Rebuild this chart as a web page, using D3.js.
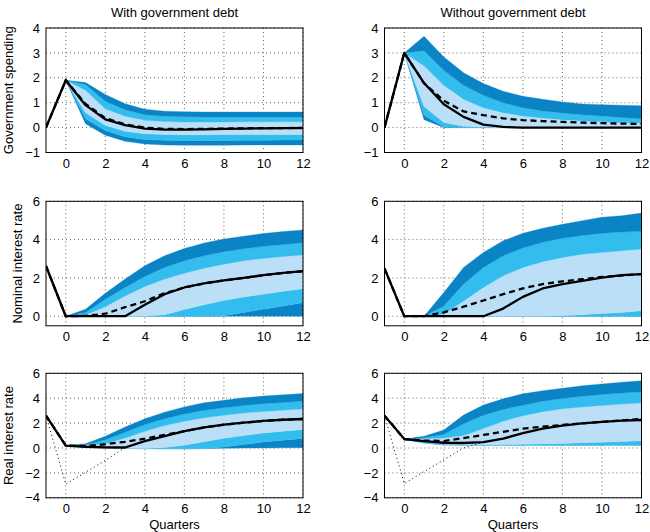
<!DOCTYPE html>
<html>
<head>
<meta charset="utf-8">
<script src="https://cdn.jsdelivr.net/npm/d3@7"></script>
<style>
  body { margin: 0; background: #fff; }
  svg { font-family: "Liberation Sans", Arial, Helvetica, sans-serif; }
</style>
</head>
<body>
<svg id="chart" width="650" height="532"></svg>
<script>
// quarters for the lines (-1..12) and for the fan bands (0..12)
const quarters = d3.range(-1, 13);
const fanQuarters = d3.range(0, 13);
const xTicks = [0, 2, 4, 6, 8, 10, 12];

const colTitles = ['With government debt', 'Without government debt'];
const rowLabels = ['Government spending', 'Nominal interest rate', 'Real interest rate'];
const rowDomains = [[-1, 4], [-0.5, 6], [-4, 6]];
const rowTicks = [[-1, 0, 1, 2, 3, 4], [0, 2, 4, 6], [-4, -2, 0, 2, 4, 6]];

// government spending, with debt
const govWithSolid = [0, 1.9, 0.9, 0.33, 0.1, -0.04, -0.08, -0.08, -0.07, -0.05, -0.04, -0.03, -0.02, -0.02];
const govWithDashed = [0, 1.9, 0.95, 0.38, 0.13, 0.0, -0.05, -0.06, -0.05, -0.04, -0.03, -0.02, -0.02, -0.01];
// bands: lo3, lo2, lo1, hi1, hi2, hi3
const govWithBands = [
  [1.9, 0.15, -0.31, -0.55, -0.66, -0.7, -0.71, -0.71, -0.71, -0.7, -0.7, -0.7, -0.7],
  [1.9, 0.36, -0.12, -0.37, -0.48, -0.51, -0.52, -0.52, -0.52, -0.51, -0.51, -0.5, -0.5],
  [1.9, 0.6, 0.09, -0.15, -0.25, -0.28, -0.29, -0.29, -0.28, -0.28, -0.28, -0.28, -0.28],
  [1.9, 1.5, 0.76, 0.46, 0.3, 0.24, 0.22, 0.22, 0.22, 0.23, 0.23, 0.23, 0.23],
  [1.9, 1.73, 1.06, 0.72, 0.52, 0.46, 0.44, 0.43, 0.43, 0.43, 0.43, 0.43, 0.43],
  [1.9, 1.81, 1.33, 0.96, 0.74, 0.66, 0.64, 0.63, 0.63, 0.63, 0.63, 0.63, 0.63]
];

// government spending, without debt
const govWithoutSolid = [0, 3.0, 1.79, 0.94, 0.43, 0.12, 0.03, 0, 0, 0, 0, 0, 0, 0];
const govWithoutDashed = [0, 3.0, 1.78, 1.08, 0.65, 0.5, 0.37, 0.3, 0.26, 0.23, 0.2, 0.18, 0.16, 0.15];
const govWithoutBands = [
  [3, 0.32, 0, 0, 0, 0, 0, 0, 0, 0, 0, 0, 0],
  [3, 0.5, 0.03, 0, 0, 0, 0, 0, 0, 0, 0, 0, 0],
  [3, 0.85, 0.2, 0.05, 0.02, 0, 0, 0, 0, 0, 0, 0, 0],
  [3, 2.48, 1.7, 1.14, 0.8, 0.6, 0.47, 0.39, 0.32, 0.27, 0.23, 0.2, 0.18],
  [3, 3.09, 2.3, 1.7, 1.3, 1.0, 0.8, 0.67, 0.59, 0.52, 0.47, 0.41, 0.36],
  [3, 3.67, 2.84, 2.2, 1.77, 1.46, 1.26, 1.14, 1.03, 0.95, 0.92, 0.9, 0.88]
];

// nominal rate, with debt
const nomWithSolid = [2.62, 0, 0, 0, 0, 0.6, 1.15, 1.5, 1.72, 1.87, 2.0, 2.14, 2.26, 2.35];
const nomWithDashed = [2.62, 0, 0.02, 0.13, 0.47, 0.78, 1.2, 1.5, 1.72, 1.87, 2.0, 2.14, 2.26, 2.35];
const nomWithBands = [
  [0, 0, 0, 0, 0, 0, 0, 0, 0, 0, 0, 0, 0],
  [0, 0, 0, 0, 0, 0, 0, 0, 0.03, 0.2, 0.37, 0.53, 0.7],
  [0, 0, 0, 0, 0, 0.08, 0.35, 0.6, 0.82, 1.0, 1.15, 1.3, 1.43],
  [0, 0.07, 0.5, 1.06, 1.55, 1.94, 2.25, 2.5, 2.72, 2.9, 3.02, 3.12, 3.2],
  [0, 0.19, 0.89, 1.5, 2.08, 2.55, 2.9, 3.16, 3.37, 3.52, 3.65, 3.75, 3.83],
  [0, 0.37, 1.2, 1.94, 2.64, 3.16, 3.54, 3.82, 4.03, 4.18, 4.32, 4.42, 4.5]
];

// nominal rate, without debt
const nomWithoutSolid = [2.5, 0, 0, 0, 0, 0, 0.4, 1.01, 1.45, 1.68, 1.85, 2.02, 2.15, 2.2];
const nomWithoutDashed = [2.5, 0, 0, 0.2, 0.5, 0.82, 1.15, 1.45, 1.68, 1.82, 1.93, 2.05, 2.12, 2.2];
const nomWithoutBands = [
  [0, 0, 0, 0, 0, 0, 0, 0, 0, 0, 0, 0, 0],
  [0, 0, 0, 0, 0, 0, 0, 0, 0, 0, 0, 0, 0],
  [0, 0, 0, 0, 0, 0, 0, 0, 0.03, 0.08, 0.14, 0.2, 0.28],
  [0, 0, 0.1, 0.8, 1.5, 2.11, 2.55, 2.84, 3.07, 3.23, 3.33, 3.42, 3.51],
  [0, 0, 0.54, 1.68, 2.55, 3.16, 3.56, 3.86, 4.07, 4.21, 4.33, 4.4, 4.43],
  [0, 0, 1.24, 2.55, 3.33, 3.94, 4.33, 4.59, 4.8, 4.99, 5.17, 5.25, 5.39]
];

// real rate, with debt
const realWithSolid = [2.6, 0.19, 0.1, 0.05, 0.04, 0.55, 0.95, 1.35, 1.65, 1.87, 2.03, 2.18, 2.27, 2.33];
const realWithDashed = [2.6, 0.19, 0.15, 0.3, 0.5, 0.75, 1.05, 1.35, 1.65, 1.87, 2.03, 2.18, 2.27, 2.33];
const realWithDotted = [2.6, -2.9, -1.95, -1.0, 0.04];
const realWithBands = [
  [0.19, 0.08, 0.0, -0.03, -0.05, -0.06, -0.06, -0.05, -0.03, -0.01, 0, 0.02, 0.03],
  [0.19, 0.08, 0.0, -0.03, -0.05, -0.06, -0.06, -0.05, 0.08, 0.28, 0.48, 0.62, 0.76],
  [0.19, 0.08, 0.0, -0.03, -0.05, 0.05, 0.22, 0.5, 0.78, 1.0, 1.2, 1.35, 1.48],
  [0.19, 0.2, 0.35, 0.8, 1.34, 1.8, 2.15, 2.42, 2.63, 2.82, 2.93, 3.04, 3.15],
  [0.19, 0.27, 0.67, 1.26, 1.88, 2.34, 2.74, 3.04, 3.23, 3.41, 3.55, 3.66, 3.77],
  [0.19, 0.35, 0.94, 1.69, 2.34, 2.88, 3.3, 3.63, 3.84, 4.03, 4.17, 4.27, 4.38]
];

// real rate, without debt
const realWithoutSolid = [2.6, 0.72, 0.55, 0.42, 0.4, 0.48, 0.75, 1.2, 1.55, 1.8, 1.97, 2.1, 2.2, 2.25];
const realWithoutDashed = [2.6, 0.72, 0.6, 0.56, 0.8, 1.05, 1.3, 1.55, 1.72, 1.85, 1.98, 2.1, 2.22, 2.33];
const realWithoutDotted = [2.6, -2.85, -1.9, -0.95, 0.0, 0.48];
const realWithoutBands = [
  [0.72, 0.4, 0.25, 0.22, 0.22, 0.22, 0.22, 0.22, 0.22, 0.22, 0.22, 0.22, 0.22],
  [0.72, 0.4, 0.25, 0.22, 0.22, 0.22, 0.22, 0.22, 0.22, 0.22, 0.22, 0.22, 0.22],
  [0.72, 0.5, 0.3, 0.27, 0.27, 0.28, 0.3, 0.33, 0.37, 0.42, 0.47, 0.52, 0.58],
  [0.72, 0.75, 0.8, 1.0, 1.56, 2.15, 2.6, 2.92, 3.15, 3.3, 3.42, 3.53, 3.62],
  [0.72, 0.82, 1.1, 1.95, 2.64, 3.1, 3.44, 3.75, 3.98, 4.15, 4.3, 4.42, 4.5],
  [0.72, 0.94, 1.45, 2.65, 3.45, 3.95, 4.35, 4.6, 4.8, 5.0, 5.15, 5.28, 5.4]
];

const panels = [
  { row: 0, col: 0, solid: govWithSolid, dashed: govWithDashed, bands: govWithBands },
  { row: 0, col: 1, solid: govWithoutSolid, dashed: govWithoutDashed, bands: govWithoutBands },
  { row: 1, col: 0, solid: nomWithSolid, dashed: nomWithDashed, bands: nomWithBands },
  { row: 1, col: 1, solid: nomWithoutSolid, dashed: nomWithoutDashed, bands: nomWithoutBands },
  { row: 2, col: 0, solid: realWithSolid, dashed: realWithDashed, dotted: realWithDotted, bands: realWithBands },
  { row: 2, col: 1, solid: realWithoutSolid, dashed: realWithoutDashed, dotted: realWithoutDotted, bands: realWithoutBands }
];

const colLeft = [46, 384.5];
const rowTop = [28, 201.3, 373.3];
const W = 257, H = 124.5;
const dark = '#0b84c5', mid = '#33bdee', light = '#bcdff8';
const fmt = d3.format('d');

const svg = d3.select('#chart');

panels.forEach((p, i) => {
  const g = svg.append('g').attr('transform', `translate(${colLeft[p.col]},${rowTop[p.row]})`);
  const x = d3.scaleLinear().domain([-1, 12]).range([0, W]);
  const y = d3.scaleLinear().domain(rowDomains[p.row]).range([H, 0]);

  g.append('clipPath').attr('id', 'clip' + i)
    .append('rect').attr('width', W).attr('height', H);

  // dotted grid
  const grid = g.append('g').attr('stroke', '#666').attr('stroke-width', 1).attr('stroke-dasharray', '1,3');
  grid.selectAll('.gx').data(xTicks).join('line')
    .attr('x1', d => x(d)).attr('x2', d => x(d)).attr('y1', 0).attr('y2', H);
  grid.selectAll('.gy').data(rowTicks[p.row]).join('line')
    .attr('x1', 0).attr('x2', W).attr('y1', d => y(d)).attr('y2', d => y(d));

  const plot = g.append('g').attr('clip-path', `url(#clip${i})`);

  // fan bands
  const b = p.bands;
  const pairs = [[0, 1, dark], [1, 2, mid], [2, 3, light], [3, 4, mid], [4, 5, dark]];
  pairs.forEach(([lo, hi, color]) => {
    const area = d3.area()
      .x(d => x(d))
      .y0((d, j) => y(b[lo][j]))
      .y1((d, j) => y(b[hi][j]));
    plot.append('path').datum(fanQuarters)
      .attr('fill', color).attr('stroke', color).attr('stroke-width', 0.3)
      .attr('d', area);
  });

  const lineOf = vals => d3.line().x((d, j) => x(quarters[j])).y(d => y(d))(vals);

  if (p.dotted) {
    plot.append('path').attr('d', lineOf(p.dotted))
      .attr('fill', 'none').attr('stroke', '#000').attr('stroke-width', 1)
      .attr('stroke-dasharray', '1,3');
  }
  plot.append('path').attr('d', lineOf(p.dashed))
    .attr('fill', 'none').attr('stroke', '#000').attr('stroke-width', 2.3)
    .attr('stroke-dasharray', '6,4');
  plot.append('path').attr('d', lineOf(p.solid))
    .attr('fill', 'none').attr('stroke', '#000').attr('stroke-width', 2.3)
    .attr('stroke-linejoin', 'round');

  // frame
  g.append('rect').attr('width', W).attr('height', H)
    .attr('fill', 'none').attr('stroke', '#000').attr('stroke-width', 1);

  // axes
  const yAxis = d3.axisLeft(y).tickValues(rowTicks[p.row]).tickFormat(fmt).tickSize(0).tickPadding(6);
  g.append('g').call(yAxis).call(a => a.select('.domain').remove())
    .selectAll('text').attr('font-size', 13).attr('fill', '#000').attr('font-family', null);
  const xAxis = d3.axisBottom(x).tickValues(xTicks).tickFormat(fmt).tickSize(0).tickPadding(6);
  g.append('g').attr('transform', `translate(0,${H})`).call(xAxis)
    .call(a => a.select('.domain').remove())
    .selectAll('text').attr('font-size', 13).attr('fill', '#000').attr('font-family', null);

  if (p.row === 0) {
    g.append('text').attr('x', W / 2).attr('y', -11).attr('text-anchor', 'middle')
      .attr('font-size', 13).text(colTitles[p.col]);
  }
  if (p.col === 0) {
    const lx = p.row === 1 ? -24 : -33;
    g.append('text').attr('transform', `translate(${lx},${H / 2}) rotate(-90)`)
      .attr('text-anchor', 'middle').attr('font-size', 13).text(rowLabels[p.row]);
  }
  if (p.row === 2) {
    g.append('text').attr('x', W / 2).attr('y', H + 31).attr('text-anchor', 'middle')
      .attr('font-size', 13).text('Quarters');
  }
});
</script>
</body>
</html>
